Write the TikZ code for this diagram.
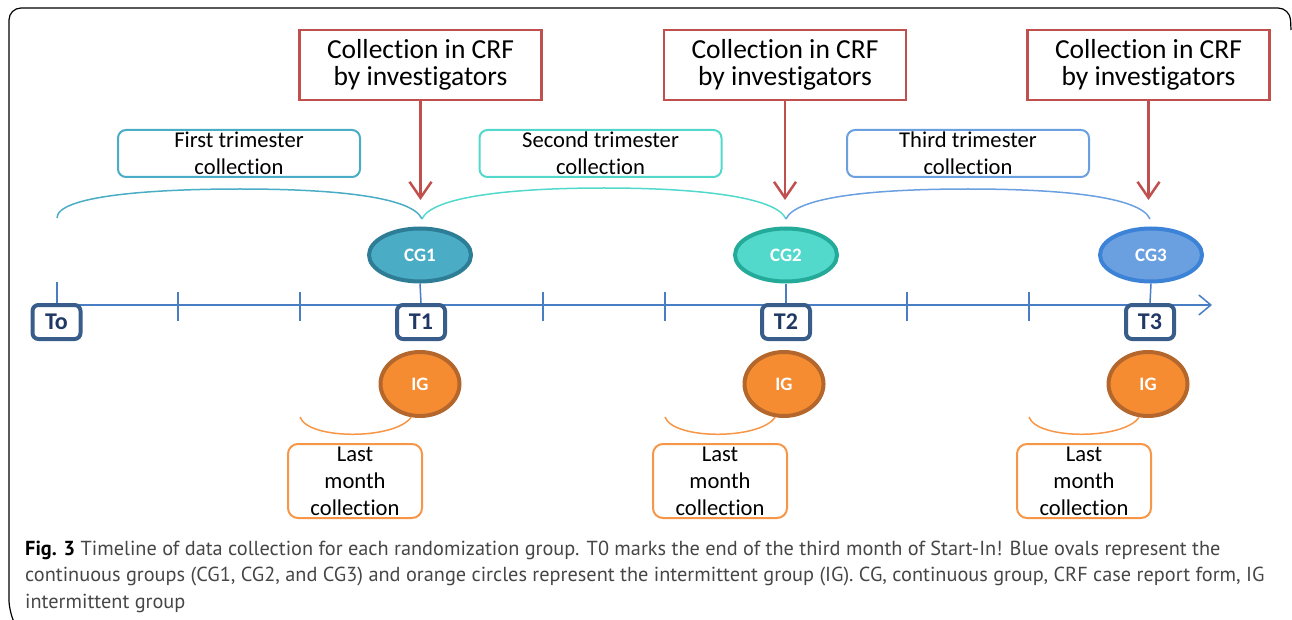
\documentclass[tikz,border=0pt]{standalone}
\usepackage{fontspec}
\setmainfont{Carlito}[Ligatures={NoCommon}]
\newfontfamily\captionfont{PT Sans}
\usetikzlibrary{shapes.geometric,arrows.meta}

\definecolor{crfred}{RGB}{192,80,77}
\definecolor{aqua}{RGB}{75,172,198}
\definecolor{aquadark}{RGB}{45,125,150}
\definecolor{turq}{RGB}{82,217,204}
\definecolor{turqdark}{RGB}{35,170,152}
\definecolor{cornflower}{RGB}{106,160,223}
\definecolor{cornflowerdark}{RGB}{60,130,215}
\definecolor{axisblue}{RGB}{74,126,196}
\definecolor{tblue}{RGB}{56,93,138}
\definecolor{tdark}{RGB}{31,56,100}
\definecolor{igfill}{RGB}{245,140,50}
\definecolor{igdark}{RGB}{180,103,45}
\definecolor{lastorange}{RGB}{247,150,70}
\definecolor{capgray}{RGB}{70,70,70}

\tikzset{
  crfbox/.style={draw=crfred, line width=2.5pt, minimum width=242pt, minimum height=70pt,
    inner sep=0pt, align=center, font=\fontsize{27.5}{27}\selectfont},
  tribox/.style={draw=#1, line width=2pt, rounded corners=8pt, minimum width=242pt,
    minimum height=47pt, inner sep=0pt, align=center, font=\fontsize{22.6}{27}\selectfont},
  cgoval/.style 2 args={ellipse, draw=#2, fill=#1, line width=4pt, minimum width=102pt,
    minimum height=53pt, inner sep=0pt, text=white, font=\bfseries\fontsize{19}{20}\selectfont},
  tbox/.style={draw=tblue, fill=white, line width=4pt, rounded corners=6pt, minimum width=48pt,
    minimum height=34pt, inner sep=0pt, text=tdark, font=\bfseries\fontsize{24}{24}\selectfont},
  igoval/.style={ellipse, draw=igdark, fill=igfill, line width=4pt, minimum width=79pt,
    minimum height=64pt, inner sep=0pt, text=white, font=\bfseries\fontsize{19}{20}\selectfont},
  lastbox/.style={draw=lastorange, line width=2pt, rounded corners=10pt, minimum width=134pt,
    minimum height=74pt, inner sep=0pt, align=center, font=\fontsize{22.6}{27}\selectfont},
  axistick/.style={draw=axisblue, line width=1.5pt},
  crfarrow/.style={draw=crfred, line width=2.5pt, -{Straight Barb[length=16pt,width=22pt]}},
  brace/.style={draw=#1, line width=1.5pt},
}

\begin{document}
\begin{tikzpicture}[x=1pt, y=-1pt]
    \useasboundingbox (0,0) rectangle (1292,620);
    % frame
    \draw[line width=1.2pt, rounded corners=12pt] (14,622) -- (9,612) -- (9,8) -- (1290,8) -- (1291,30);

    % time axis
    \draw[axisblue, line width=1.5pt, -{Straight Barb[length=12pt,width=20pt]}] (57,305) -- (1212,305);
    \foreach \x in {178,300,543,665,907,1029}
        \draw[axistick] (\x,292) -- (\x,321);
    \draw[axistick] (57,282) -- (57,305);

    % top boxes
    \node[crfbox] (crf1) at (420.5,65) {Collection in CRF\\by investigators};
    \node[crfbox] (crf2) at (785,65) {Collection in CRF\\by investigators};
    \node[crfbox] (crf3) at (1148.5,65) {Collection in CRF\\by investigators};

    \node[tribox=aqua] (tri1) at (239,153.5) {First trimester\\collection};
    \node[tribox=turq] (tri2) at (600.5,153.5) {Second trimester\\collection};
    \node[tribox=cornflower] (tri3) at (968,153.5) {Third trimester\\collection};

    % braces
    \coordinate (b0) at (57,218);
    \coordinate (b1) at (422,219);
    \coordinate (b2) at (786,219);
    \coordinate (b3) at (1150,219);
    \draw[brace=aqua] (b0) .. controls (57,196) and (150,189) .. (240,189)
        .. controls (330,189) and (412,196) .. (b1);
    \draw[brace=turq] (b1) .. controls (432,196) and (515,188) .. (604,188)
        .. controls (693,188) and (776,196) .. (b2);
    \draw[brace=cornflower] (b2) .. controls (796,196) and (879,189) .. (968,189)
        .. controls (1057,189) and (1140,196) .. (b3);

    % continuous groups
    \node[cgoval={aqua}{aquadark}] (cg1) at (420,255) {CG1};
    \node[cgoval={turq}{turqdark}] (cg2) at (786,255) {CG2};
    \node[cgoval={cornflower}{cornflowerdark}] (cg3) at (1151,255) {CG3};

    \draw[crfarrow] (crf1.south) -- (crf1.south |- 0,200);
    \draw[crfarrow] (crf2.south) -- (crf2.south |- 0,200);
    \draw[crfarrow] (crf3.south) -- (crf3.south |- 0,200);

    % time points
    \node[tbox] (t0) at (56.5,322) {To};
    \node[tbox] (t1) at (421,322) {T1};
    \node[tbox] (t2) at (786,322) {T2};
    \node[tbox] (t3) at (1150,322) {T3};
    \foreach \i in {1,2,3}
        \draw[axisblue, line width=1.5pt] (cg\i.south) -- (t\i.north);

    % intermittent group
    \node[igoval] (ig1) at (420,384) {IG};
    \node[igoval] (ig2) at (784,384) {IG};
    \node[igoval] (ig3) at (1148,384) {IG};

    \node[lastbox] (last1) at (355,481) {Last\\month\\collection};
    \node[lastbox] (last2) at (720,481) {Last\\month\\collection};
    \node[lastbox] (last3) at (1084,481) {Last\\month\\collection};

    \foreach \a/\i in {300/1,665/2,1029/3}
        \draw[lastorange, line width=1.5pt] (\a,417) .. controls (\a+8,440) and (\a+95,440) .. (ig\i.-105);

    % caption
    \node[anchor=base west, align=left, inner sep=0pt, text=capgray,
        font=\captionfont\fontsize{20.3}{26.5}\selectfont] (caption) at (25,608)
        {\textcolor{black}{\textbf{Fig. 3}} Timeline of data collection for each randomization group. T0 marks the end of the third month of Start-In! Blue ovals represent the\\
        continuous groups (CG1, CG2, and CG3) and orange circles represent the intermittent group (IG). CG, continuous group, CRF case report form, IG\\
        intermittent group};
\end{tikzpicture}
\end{document}
